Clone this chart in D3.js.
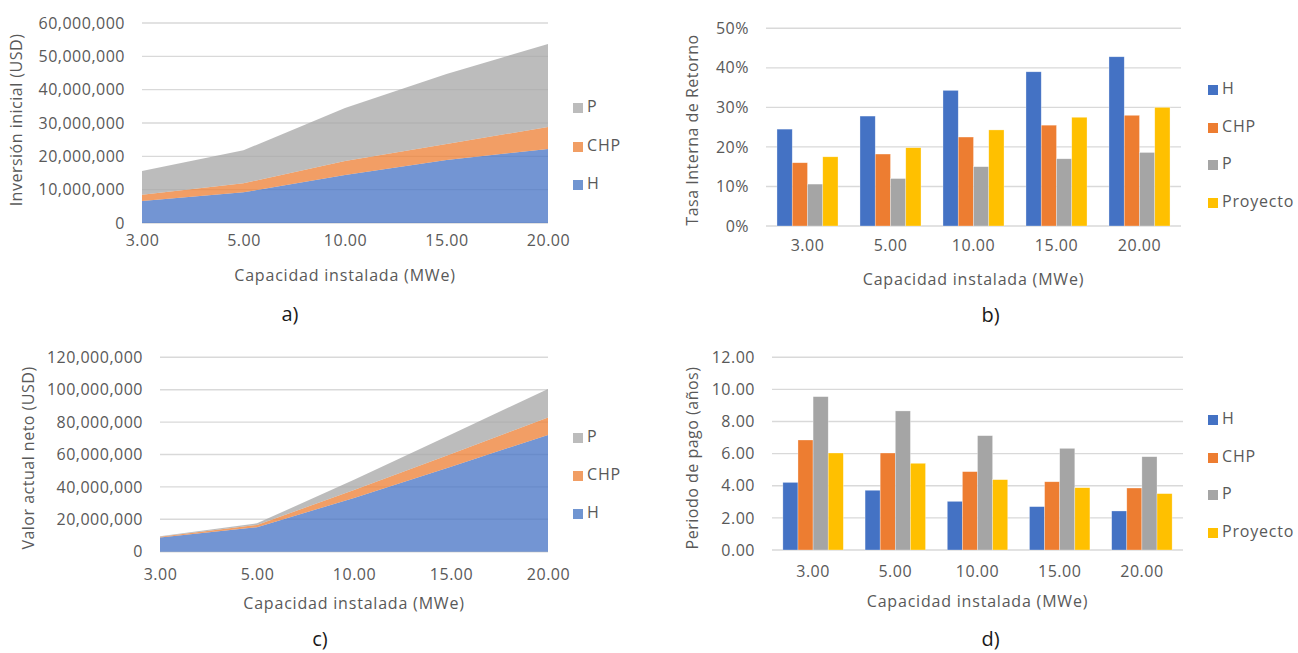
<!DOCTYPE html>
<html>
<head>
<meta charset="utf-8">
<script src="https://cdn.jsdelivr.net/npm/d3@7"></script>
<style>
  body { margin: 0; background: #fff; }
  svg text { font-family: "Open Sans", Lato, sans-serif; }
</style>
</head>
<body>
<svg id="chart" width="1298" height="653"></svg>
<script>
// capacities (MWe) shared by all four panels
const categories = ['3.00', '5.00', '10.00', '15.00', '20.00'];

// a) Inversion inicial (USD), stacked areas
const invH   = [6.6e6, 9.2e6, 14.4e6, 18.9e6, 22.2e6];
const invCHP = [1.9e6, 2.7e6, 4.2e6, 4.8e6, 6.6e6];
const invP   = [7.1e6, 9.9e6, 15.9e6, 21.0e6, 24.9e6];
const invTicks = [0, 10e6, 20e6, 30e6, 40e6, 50e6, 60e6];

// b) Tasa Interna de Retorno (%)
const tirH        = [24.5, 27.8, 34.3, 39.0, 42.8];
const tirCHP      = [16.0, 18.2, 22.5, 25.5, 28.0];
const tirP        = [10.6, 12.0, 15.0, 17.0, 18.6];
const tirProyecto = [17.5, 19.8, 24.3, 27.5, 30.0];
const tirTicks = [0, 10, 20, 30, 40, 50];

// c) Valor actual neto (USD), stacked areas
const vanH   = [8.8e6, 15.1e6, 33.2e6, 52.5e6, 72.1e6];
const vanCHP = [0.5e6, 1.4e6, 4.9e6, 7.8e6, 10.7e6];
const vanP   = [0.3e6, 1.0e6, 6.3e6, 12.1e6, 17.7e6];
const vanTicks = [0, 20e6, 40e6, 60e6, 80e6, 100e6, 120e6];

// d) Periodo de pago (anos)
const ppH        = [4.21, 3.72, 3.03, 2.70, 2.43];
const ppCHP      = [6.85, 6.04, 4.88, 4.25, 3.86];
const ppP        = [9.55, 8.66, 7.12, 6.33, 5.81];
const ppProyecto = [6.04, 5.40, 4.38, 3.88, 3.51];
const ppTicks = [0, 2, 4, 6, 8, 10, 12];

const colors = { H: '#4472C4', CHP: '#ED7D31', P: '#A5A5A5', Proyecto: '#FFC000' };
const textColor = '#595959';
const gridColor = '#d9d9d9';

const svg = d3.select('#chart');

function yAxisAndGrid(g, y, ticks, fmt, x0, x1) {
  g.append('g')
    .selectAll('line')
    .data(ticks)
    .enter()
    .append('line')
    .attr('x1', x0).attr('x2', x1)
    .attr('y1', d => y(d)).attr('y2', d => y(d))
    .attr('stroke', gridColor)
    .attr('stroke-width', 1.4);

  const ax = g.append('g')
    .attr('transform', `translate(${x0 - 17},0)`)
    .call(d3.axisLeft(y).tickValues(ticks).tickFormat(fmt).tickSize(0).tickPadding(0));
  ax.select('.domain').remove();
  ax.selectAll('text')
    .attr('fill', textColor)
    .style('font-size', '16px')
    .style('letter-spacing', '0.5px');
}

function titles(g, o) {
  g.append('text')
    .attr('x', (o.x0 + o.x1) / 2).attr('y', o.titleY)
    .attr('text-anchor', 'middle').attr('dominant-baseline', 'middle')
    .attr('fill', textColor).style('font-size', '16px')
    .style('letter-spacing', '0.8px')
    .text('Capacidad instalada (MWe)');
  g.append('text')
    .attr('transform', `translate(${o.yTitleX},${o.yTitleY}) rotate(-90)`)
    .attr('text-anchor', 'middle').attr('dominant-baseline', 'middle')
    .attr('fill', textColor).style('font-size', '16px')
    .style('letter-spacing', '0.5px')
    .text(o.yTitle);
  g.append('text')
    .attr('x', (o.x0 + o.x1) / 2 + o.tagDx).attr('y', o.tagY)
    .attr('text-anchor', 'middle').attr('dominant-baseline', 'middle')
    .attr('fill', '#1a1a1a').style('font-size', '20px')
    .text(o.tag);
}

function legend(g, items, x, ys, fills) {
  items.forEach((k, i) => {
    g.append('rect')
      .attr('x', x).attr('y', ys[i] - 5)
      .attr('width', 10).attr('height', 10)
      .attr('fill', fills[k]);
    g.append('text')
      .attr('x', x + 14).attr('y', ys[i])
      .attr('dominant-baseline', 'middle')
      .attr('fill', textColor).style('font-size', '16px')
      .style('letter-spacing', '0.8px')
      .text(k);
  });
}

function areaPanel(o) {
  const g = svg.append('g');
  const x = d3.scalePoint().domain(categories).range([o.x0, o.x1]);
  const y = d3.scaleLinear().domain([0, o.ticks[o.ticks.length - 1]]).range([o.yb, o.yt]);

  yAxisAndGrid(g, y, o.ticks, d3.format(','), o.x0, o.x1);

  const rows = categories.map((c, i) => ({ cat: c, H: o.H[i], CHP: o.CHP[i], P: o.P[i] }));
  const keys = ['H', 'CHP', 'P'];
  const series = d3.stack().keys(keys)(rows);
  const area = d3.area()
    .x(d => x(d.data.cat))
    .y0(d => y(d[0]))
    .y1(d => y(d[1]));
  const fills = { H: '#7095d1', CHP: '#f19e64', P: '#bcbcbc' };

  g.append('g')
    .selectAll('path')
    .data(series)
    .enter()
    .append('path')
    .attr('d', area)
    .attr('fill', d => colors[d.key])
    .attr('fill-opacity', 0.75);

  const xa = g.append('g')
    .attr('transform', `translate(0,${o.tickY})`)
    .call(d3.axisBottom(x).tickSize(0).tickPadding(0));
  xa.select('.domain').remove();
  xa.selectAll('text')
    .attr('fill', textColor).attr('dy', 0)
    .attr('dominant-baseline', 'middle')
    .style('font-size', '16px')
    .style('letter-spacing', '0.5px');

  titles(g, o);
  legend(g, ['P', 'CHP', 'H'], o.legX, o.legYs, fills);
}

function barPanel(o) {
  const g = svg.append('g');
  const keys = ['H', 'CHP', 'P', 'Proyecto'];
  const x = d3.scaleBand().domain(categories).range([o.x0, o.x1]);
  const xs = d3.scaleBand().domain(keys).range([0, x.bandwidth()]).paddingOuter(0.72);
  const y = d3.scaleLinear().domain([0, o.ticks[o.ticks.length - 1]]).range([o.yb, o.yt]);

  yAxisAndGrid(g, y, o.ticks, o.fmt, o.x0, o.x1);

  const rows = categories.map((c, i) => ({ cat: c, H: o.H[i], CHP: o.CHP[i], P: o.P[i], Proyecto: o.Proyecto[i] }));

  g.append('g')
    .selectAll('g')
    .data(rows)
    .enter()
    .append('g')
    .attr('transform', d => `translate(${x(d.cat)},0)`)
    .selectAll('rect')
    .data(d => keys.map(k => ({ key: k, value: d[k] })))
    .enter()
    .append('rect')
    .attr('x', d => xs(d.key))
    .attr('y', d => y(d.value))
    .attr('width', xs.bandwidth())
    .attr('height', d => y(0) - y(d.value))
    .attr('fill', d => colors[d.key])
    .attr('stroke', '#ffffff')
    .attr('stroke-opacity', 0.5)
    .attr('stroke-width', 0.6);

  const xa = g.append('g')
    .attr('transform', `translate(0,${o.tickY})`)
    .call(d3.axisBottom(x).tickSize(0).tickPadding(0));
  xa.select('.domain').remove();
  xa.selectAll('text')
    .attr('fill', textColor).attr('dy', 0)
    .attr('dominant-baseline', 'middle')
    .style('font-size', '16px')
    .style('letter-spacing', '0.5px');

  titles(g, o);
  legend(g, keys, o.legX, o.legYs, colors);
}

areaPanel({
  x0: 142, x1: 548, yb: 223, yt: 23, ticks: invTicks,
  H: invH, CHP: invCHP, P: invP,
  tickY: 242, titleY: 277, tag: 'a)', tagY: 316, tagDx: -55,
  yTitle: 'Inversión inicial (USD)', yTitleX: 18, yTitleY: 120,
  legX: 573, legYs: [108, 147, 185]
});

barPanel({
  x0: 766, x1: 1181, yb: 226, yt: 28.3, ticks: tirTicks, fmt: d => d + '%',
  H: tirH, CHP: tirCHP, P: tirP, Proyecto: tirProyecto,
  tickY: 247, titleY: 281, tag: 'b)', tagY: 317, tagDx: 17,
  yTitle: 'Tasa Interna de Retorno', yTitleX: 694, yTitleY: 130,
  legX: 1208, legYs: [90, 128, 165, 203]
});

areaPanel({
  x0: 160, x1: 548, yb: 551.7, yt: 357.3, ticks: vanTicks,
  H: vanH, CHP: vanCHP, P: vanP,
  tickY: 576, titleY: 605, tag: 'c)', tagY: 641, tagDx: -34,
  yTitle: 'Valor actual neto (USD)', yTitleX: 30, yTitleY: 458,
  legX: 573, legYs: [438, 476, 514]
});

barPanel({
  x0: 772, x1: 1183, yb: 550, yt: 357.3, ticks: ppTicks, fmt: d3.format('.2f'),
  H: ppH, CHP: ppCHP, P: ppP, Proyecto: ppProyecto,
  tickY: 573, titleY: 603, tag: 'd)', tagY: 641, tagDx: 13,
  yTitle: 'Periodo de pago (años)', yTitleX: 694, yTitleY: 458,
  legX: 1208, legYs: [420, 458, 495, 533]
});
</script>
</body>
</html>
